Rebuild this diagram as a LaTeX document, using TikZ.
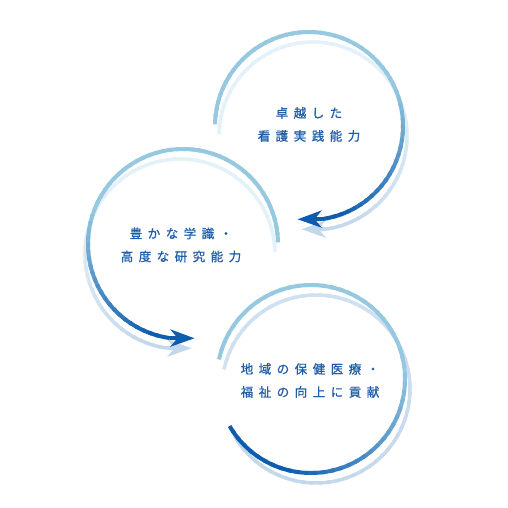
\documentclass[tikz,border=0pt]{standalone}
\usepackage{fontspec}
\usepackage{xcolor}
\usetikzlibrary{arrows.meta}
\newfontfamily\jpfont[LetterSpace=44, FakeBold=1]{Noto Sans CJK JP}

\definecolor{arclight}{HTML}{96C8DF}
\definecolor{arcdark}{HTML}{0E5CAE}
\definecolor{shlight}{HTML}{E4F1F8}
\definecolor{shpale}{HTML}{CFE0F0}
\definecolor{shdark}{HTML}{C4D8EC}
\definecolor{textblue}{HTML}{1F5DA8}

% arc with a colour ramp: center, start, end, radius, ramp from, ramp to, light, dark, width
\newcommand{\gradarc}[9]{%
  \foreach \k in {0,...,59}{%
    \pgfmathsetmacro{\angA}{#2+(#3-#2)/60*\k}
    \pgfmathsetmacro{\angB}{#2+(#3-#2)/60*min(\k+1.4,60)}
    \pgfmathsetmacro{\mixp}{max(0,min(100,(\k/60-#5)/(#6-#5)*100))}
    \draw[line width=#9, color=#8!\mixp!#7] ([shift={(\angA:#4)}]#1) arc[start angle=\angA, end angle=\angB, radius=#4];
  }}

\tikzset{
  ring label/.style={font=\jpfont\fontsize{12.5}{23}\selectfont, text=textblue, align=center},
  ring tip/.style={-{Stealth[length=24pt, width=17pt, inset=7pt]}, line width=4pt}
}

\begin{document}
\begin{tikzpicture}[x=1pt, y=1pt]
\useasboundingbox (0,0) rectangle (508,508);

% centres of the three rings
\coordinate (excel) at (309,382);
\coordinate (excelsh) at (313,372);
\coordinate (study) at (183,264);
\coordinate (studysh) at (180,254);
\coordinate (region) at (311,129);
\coordinate (regionsh) at (316,119);

% shadows
\gradarc{excelsh}{179}{-82}{94}{0.55}{0.95}{shlight}{shdark}{3.5pt}
\draw[ring tip, shdark] ([shift={(-82:94)}]excelsh) -- ([shift={(-97:94)}]excelsh);
\gradarc{studysh}{1}{262}{95}{0.55}{0.95}{shlight}{shdark}{3.5pt}
\draw[ring tip, shdark] ([shift={(262:95)}]studysh) -- ([shift={(277:95)}]studysh);
\gradarc{regionsh}{168}{-150}{94}{0.3}{0.8}{shpale}{shdark}{3.5pt}

% rings
\gradarc{excel}{179}{-82}{94}{0.58}{0.95}{arclight}{arcdark}{4pt}
\draw[ring tip, arcdark] ([shift={(-82:94)}]excel) -- ([shift={(-97:94)}]excel);
\gradarc{study}{1}{262}{95}{0.6}{0.95}{arclight}{arcdark}{4pt}
\draw[ring tip, arcdark] ([shift={(262:95)}]study) -- ([shift={(277:95)}]study);
\gradarc{region}{168}{-150}{94}{0.5}{0.85}{arclight}{arcdark}{4pt}

% labels
\node[ring label] (excellabel) at (309,383.5) {卓越した\\看護実践能力};
\node[ring label] (studylabel) at (181,263) {豊かな学識・\\高度な研究能力};
\node[ring label] (regionlabel) at (310,127.5) {地域の保健医療・\\福祉の向上に貢献};
\end{tikzpicture}
\end{document}
